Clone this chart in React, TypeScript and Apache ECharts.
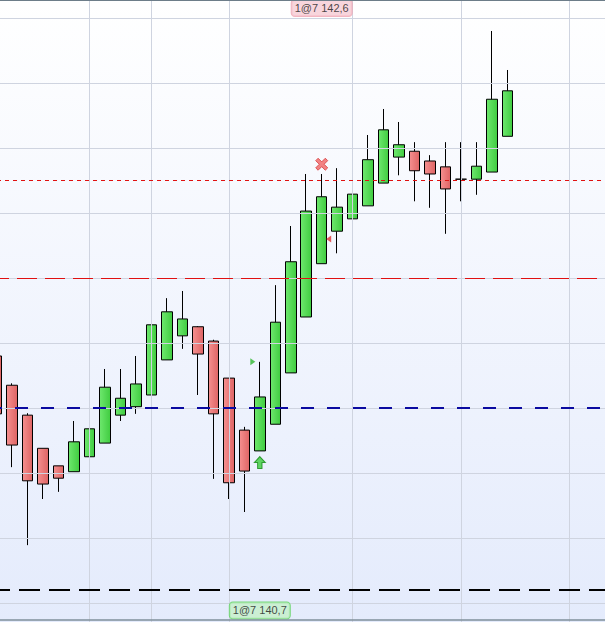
import React, { useEffect, useRef } from "react";
import * as echarts from "echarts";

// ---- data ----
const CATEGORIES = [
  "1", "2", "3", "4", "5", "6", "7", "8", "9", "10",
  "11", "12", "13", "14", "15", "16", "17", "18", "19", "20",
  "21", "22", "23", "24", "25", "26", "27", "28", "29", "30",
  "31", "32", "33", "34", "35", "36", "37", "38", "39", "40",
];
const OPEN = [141.380, 141.335, 141.289, 141.238, 141.211, 141.202, 141.225, 141.246, 141.289, 141.302, 141.320, 141.374, 141.411, 141.425, 141.403, 141.346, 141.266, 141.234, 141.275, 141.354, 141.440, 141.522, 141.572, 141.591, 141.611, 141.646, 141.686, 141.695, 141.680, 141.671, 141.652, 141.652, 141.663, 141.718];
const CLOSE = [141.291, 141.243, 141.188, 141.183, 141.192, 141.248, 141.268, 141.332, 141.315, 141.337, 141.428, 141.448, 141.437, 141.383, 141.291, 141.185, 141.203, 141.317, 141.432, 141.525, 141.603, 141.625, 141.609, 141.629, 141.682, 141.728, 141.705, 141.665, 141.660, 141.637, 141.652, 141.672, 141.775, 141.788];
const LOW = [141.274, 141.209, 141.089, 141.160, 141.171, 141.202, 141.220, 141.246, 141.280, 141.291, 141.320, 141.374, 141.391, 141.320, 141.191, 141.160, 141.140, 141.234, 141.275, 141.354, 141.440, 141.522, 141.538, 141.578, 141.611, 141.646, 141.658, 141.618, 141.608, 141.568, 141.618, 141.628, 141.663, 141.718];
const HIGH = [141.397, 141.338, 141.292, 141.238, 141.211, 141.280, 141.320, 141.360, 141.360, 141.380, 141.480, 141.469, 141.480, 141.426, 141.405, 141.346, 141.271, 141.371, 141.489, 141.580, 141.660, 141.660, 141.669, 141.709, 141.720, 141.760, 141.740, 141.709, 141.689, 141.709, 141.709, 141.709, 141.880, 141.820];

// horizontal price grid levels and vertical grid bars
const GRID_LEVELS = [141.0, 141.1, 141.2, 141.3, 141.4, 141.5, 141.6, 141.7, 141.8, 141.9];
const VGRID_BARS = ["7", "11", "16", "24", "31", "38"];

// dashed level lines
const RED_SHORT_LEVEL = 141.645;
const RED_LONG_LEVEL = 141.505;
const BLUE_LEVEL = 141.3;
const BLACK_LEVEL = 141.02;

// trade markers [bar index, price]
const BUY_ARROW = [17, 141.216];
const EXIT_CROSS = [21, 141.675];
const GREEN_TICK = [17, 141.371];
const RED_TICK = [21, 141.56];

// off-screen order labels
const ORDER_TEXTS = ["1@7 142,6", "1@7 140,7"];
const ORDER_BARS = [21, 17];
const ORDER_PRICES = [141.9154, 140.9885];

const Y_MIN = 140.97077;
const Y_MAX = 141.92769;

// the plot is wider than the window so the first bar is cut at the left edge
const PLOT_LEFT = -10.74;
const PLOT_WIDTH = 619.2;

export default function App() {
  const ref = useRef<HTMLDivElement>(null);

  useEffect(() => {
    if (!ref.current) return;
    const chart = echarts.init(ref.current, undefined, { renderer: "svg" });

    const candles = CATEGORIES.map((_, i) =>
      i < OPEN.length ? [OPEN[i], CLOSE[i], LOW[i], HIGH[i]] : "-"
    );

    const green = new echarts.graphic.LinearGradient(0, 0, 1, 0, [
      { offset: 0, color: "#6ee86e" },
      { offset: 1, color: "#40cc40" },
    ]);
    const red = new echarts.graphic.LinearGradient(0, 0, 1, 0, [
      { offset: 0, color: "#f59090" },
      { offset: 1, color: "#de6464" },
    ]);

    const levelLine = (v: number, color: string, width: number, dash: number[]) => ({
      yAxis: v,
      lineStyle: { color, width, type: dash },
    });

    chart.setOption({
      animation: false,
      grid: { left: 0, right: 0, top: 0, bottom: 0 },
      xAxis: {
        type: "category",
        data: CATEGORIES,
        boundaryGap: true,
        axisLine: { show: false },
        axisTick: { show: false },
        axisLabel: { show: false },
        splitLine: { show: false },
      },
      yAxis: {
        type: "value",
        min: Y_MIN,
        max: Y_MAX,
        axisLine: { show: false },
        axisTick: { show: false },
        axisLabel: { show: false },
        splitLine: { show: false },
      },
      graphic: [
        {
          type: "line",
          shape: { x1: 0, y1: 0.5, x2: PLOT_WIDTH, y2: 0.5 },
          style: { stroke: "#6d7d89", lineWidth: 1 },
          z: 100,
        },
        {
          type: "line",
          shape: { x1: 0, y1: 620, x2: PLOT_WIDTH, y2: 620 },
          style: { stroke: "#7f8f9b", lineWidth: 1.5 },
          z: 100,
        },
      ],
      series: [
        {
          name: "grid",
          type: "line",
          data: CATEGORIES.map(() => null),
          showSymbol: false,
          silent: true,
          z: 1,
          markLine: {
            silent: true,
            symbol: ["none", "none"],
            label: { show: false },
            lineStyle: { color: "#cfd4e0", width: 1, type: "solid" },
            data: [
              ...GRID_LEVELS.map((v) => ({ yAxis: v })),
              ...VGRID_BARS.map((c) => ({ xAxis: c })),
            ],
          },
        },
        {
          name: "price",
          type: "candlestick",
          data: candles,
          barWidth: 11,
          z: 2,
          itemStyle: {
            color: green,
            color0: red,
            borderColor: "#000000",
            borderColor0: "#000000",
            borderColorDoji: "#000000",
            borderWidth: 1,
          },
        },
        {
          name: "levels",
          type: "line",
          data: CATEGORIES.map(() => null),
          showSymbol: false,
          silent: true,
          z: 3,
          markLine: {
            silent: true,
            symbol: ["none", "none"],
            label: { show: false },
            data: [
              levelLine(RED_SHORT_LEVEL, "#e01010", 1, [4, 4]),
              levelLine(RED_LONG_LEVEL, "#e01010", 1, [20, 8]),
              levelLine(BLUE_LEVEL, "#0a0aa0", 2, [13, 13]),
              levelLine(BLACK_LEVEL, "#000000", 2, [21, 9]),
            ],
          },
        },
        {
          name: "markers",
          type: "scatter",
          z: 4,
          silent: true,
          data: [
            {
              value: BUY_ARROW,
              symbol: "path://M5,0 L10,6 L7,6 L7,12 L3,12 L3,6 L0,6 Z",
              symbolSize: [11, 12],
              itemStyle: { color: "#3ccc3c", borderColor: "#128a12", borderWidth: 1 },
            },
            {
              value: EXIT_CROSS,
              symbol: "path://M2,0 L5,3 L8,0 L10,2 L7,5 L10,8 L8,10 L5,7 L2,10 L0,8 L3,5 L0,2 Z",
              symbolSize: [12, 12],
              itemStyle: { color: "#f06464", borderColor: "#d83c3c", borderWidth: 1 },
            },
            {
              value: GREEN_TICK,
              symbol: "path://M0,0 L6,4 L0,8 Z",
              symbolSize: [5, 7],
              symbolOffset: [-7, 0],
              itemStyle: { color: "#2fb82f" },
            },
            {
              value: RED_TICK,
              symbol: "path://M6,0 L0,4 L6,8 Z",
              symbolSize: [5, 7],
              symbolOffset: [7, 0],
              itemStyle: { color: "#e03030" },
            },
          ],
        },
        {
          name: "orders",
          type: "scatter",
          z: 5,
          silent: true,
          symbolSize: 0,
          data: ORDER_TEXTS.map((t, i) => ({
            value: [ORDER_BARS[i], ORDER_PRICES[i]],
            label: {
              show: true,
              position: "inside",
              formatter: t,
              fontFamily: "Liberation Sans, Arial, sans-serif",
              fontSize: 11,
              lineHeight: 12,
              color: "#1a1a1a",
              padding: [2, 3, 2, 3],
              borderRadius: 3,
              borderWidth: 1,
              backgroundColor: i === 0 ? "#f6cbd3" : "#c4f0c8",
              borderColor: i === 0 ? "#f0a4b2" : "#5cd25c",
            },
          })),
        },
      ],
    });

    return () => chart.dispose();
  }, []);

  return (
    <div
      style={{
        position: "absolute",
        left: 0,
        top: 0,
        width: 605,
        height: 622,
        overflow: "hidden",
        background: "linear-gradient(180deg, #ffffff 0%, #e4ebfc 100%)",
      }}
    >
      <div
        ref={ref}
        style={{
          position: "absolute",
          left: PLOT_LEFT,
          top: 0,
          width: PLOT_WIDTH,
          height: 622,
        }}
      />
    </div>
  );
}
